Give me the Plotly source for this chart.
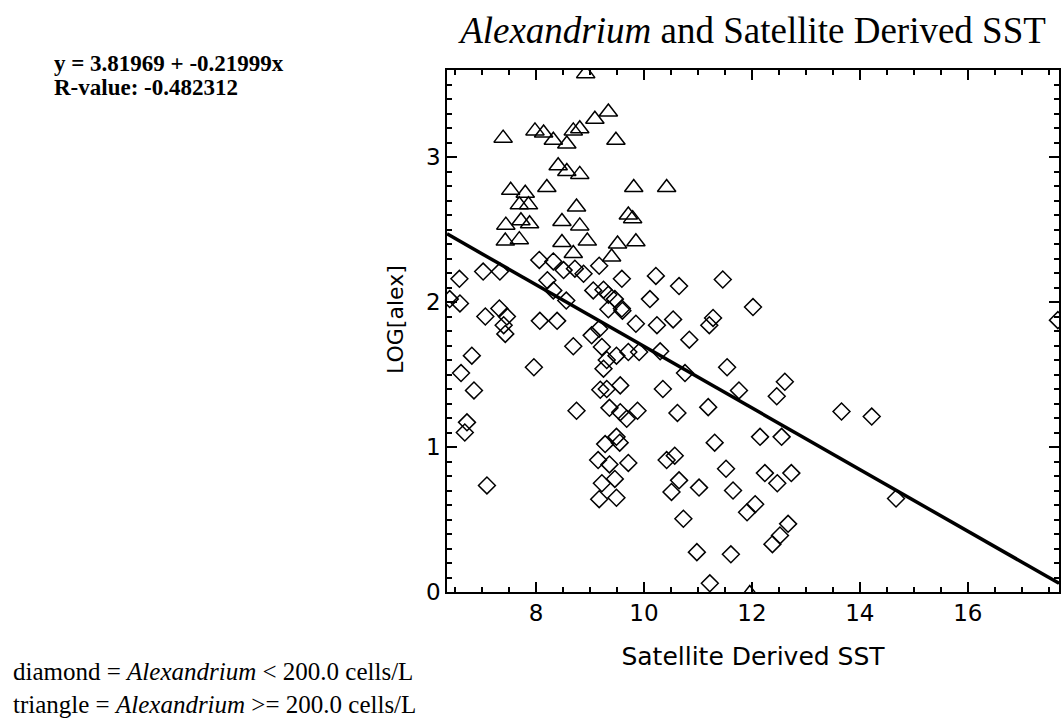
import plotly.graph_objects as go

# ---- data ----
tri_x = [8.92, 9.34, 9.09, 7.39, 9.48, 7.98, 8.14, 8.32, 8.57, 8.69, 8.81,
         8.41, 8.57, 8.81, 8.20, 7.53, 7.80, 9.81, 10.42, 7.69, 7.86, 8.75,
         9.71, 9.79, 7.72, 7.88, 7.44, 8.48, 8.81, 7.43, 7.69, 8.48, 8.95,
         9.51, 9.85, 8.69, 9.40, 11.96]
tri_y = [3.575, 3.31, 3.26, 3.13, 3.115, 3.18, 3.165, 3.115, 3.09, 3.18, 3.195,
         2.94, 2.90, 2.88, 2.79, 2.77, 2.75, 2.79, 2.79, 2.67, 2.67, 2.655,
         2.60, 2.575, 2.56, 2.54, 2.53, 2.555, 2.525, 2.42, 2.43, 2.41, 2.42,
         2.40, 2.415, 2.335, 2.31, -0.01]

dia_x = [8.06, 8.32, 8.51, 8.72, 8.88, 9.17, 7.02, 7.33, 6.58, 9.59, 10.22,
         10.65, 11.46, 8.21, 8.32, 9.06, 9.25, 9.34, 9.46, 9.59, 9.60, 10.11,
         6.40, 6.59, 8.56, 12.02, 7.06, 7.32, 7.46, 7.40, 7.43, 8.07, 8.39,
         9.85, 10.24, 10.54, 11.21, 11.28, 9.34, 8.69, 9.03, 9.17, 9.22, 9.31,
         9.25, 9.49, 9.71, 9.91, 10.84, 10.30, 10.76, 11.54, 11.76, 6.81, 6.61,
         6.85, 7.96, 8.75, 9.56, 9.19, 9.31, 9.36, 9.56, 9.68, 9.88, 10.35,
         10.62, 11.19, 12.15, 6.72, 6.68, 9.28, 9.49, 9.55, 9.15, 9.36, 9.71,
         10.42, 10.57, 11.31, 11.52, 12.24, 7.09, 9.22, 9.46, 9.17, 9.49, 10.65,
         10.51, 11.02, 11.65, 11.91, 12.06, 10.73, 10.98, 11.61, 11.22, 12.61,
         12.46, 13.66, 14.22, 12.55, 12.47, 12.73, 12.67, 12.52, 12.38, 14.67,
         17.67]
dia_y = [2.29, 2.28, 2.22, 2.23, 2.195, 2.25, 2.21, 2.21, 2.16, 2.16, 2.18,
         2.11, 2.155, 2.15, 2.08, 2.08, 2.085, 2.05, 2.02, 1.955, 1.94, 2.02,
         2.02, 1.99, 2.01, 1.965, 1.90, 1.955, 1.90, 1.84, 1.78, 1.87, 1.87,
         1.85, 1.84, 1.88, 1.84, 1.89, 1.95, 1.695, 1.77, 1.815, 1.69, 1.60,
         1.54, 1.63, 1.655, 1.655, 1.74, 1.66, 1.51, 1.55, 1.39, 1.63, 1.51,
         1.39, 1.55, 1.25, 1.425, 1.395, 1.40, 1.27, 1.24, 1.195, 1.25, 1.40,
         1.235, 1.275, 1.07, 1.17, 1.10, 1.02, 1.07, 1.03, 0.91, 0.88, 0.89,
         0.91, 0.94, 1.03, 0.85, 0.82, 0.735, 0.75, 0.78, 0.64, 0.65, 0.77,
         0.69, 0.72, 0.70, 0.55, 0.605, 0.505, 0.275, 0.26, 0.06, 1.45,
         1.35, 1.245, 1.21, 1.07, 0.75, 0.82, 0.47, 0.39, 0.33, 0.645,
         1.875]

fit_x = [6.35, 17.69]
fit_y = [2.47, 0.06]

x_range = [6.35, 17.69]
y_range = [0.0, 3.6]

eq_text = "y = 3.81969 + -0.21999x"
r_text = "R-value: -0.482312"
legend_1 = "diamond = <i>Alexandrium</i> < 200.0 cells/L"
legend_2 = "triangle = <i>Alexandrium</i> >= 200.0 cells/L"
title_text = "<i>Alexandrium</i> and Satellite Derived SST"
x_title = "Satellite Derived SST"
y_title = "LOG[alex]"

# ---- figure ----
W, H = 1063, 720
ML, MR, MT, MB = 447, 4, 70, 128
PW = W - ML - MR
PH = H - MT - MB

def px_x(p):
    return (p - ML) / PW

def px_y(p):
    return 1 - (p - MT) / PH

fig = go.Figure()
fig.add_trace(go.Scatter(x=fit_x, y=fit_y, mode="lines",
                         line=dict(color="black", width=3.5),
                         hoverinfo="skip", showlegend=False))
fig.add_trace(go.Scatter(x=dia_x, y=dia_y, mode="markers",
                         marker=dict(symbol="diamond-open", size=13, color="black",
                                     line=dict(width=1.5, color="black")),
                         hoverinfo="skip", showlegend=False))
fig.add_trace(go.Scatter(x=tri_x, y=tri_y, mode="markers",
                         marker=dict(symbol="triangle-up-open", size=16, color="black",
                                     line=dict(width=1.5, color="black")),
                         hoverinfo="skip", showlegend=False))
# empty trace so the overlaid minor-tick axes get drawn
fig.add_trace(go.Scatter(x=[], y=[], xaxis="x2", yaxis="y2", mode="markers",
                         hoverinfo="skip", showlegend=False))

tick_font = dict(family="DejaVu Sans", size=23, color="black")
title_font = dict(family="DejaVu Sans", size=25, color="black")

common = dict(ticks="inside", tickwidth=1.5, tickcolor="black",
              showgrid=False, zeroline=False)

fig.update_layout(
    xaxis=dict(range=x_range, tickmode="linear", tick0=8, dtick=2, ticklen=10,
               showline=True, linecolor="black", linewidth=1.5, mirror="ticks",
               tickfont=tick_font,
               title=dict(text=x_title, font=title_font, standoff=22), **common),
    yaxis=dict(range=y_range, tickmode="linear", tick0=0, dtick=1, ticklen=10,
               showline=True, linecolor="black", linewidth=1.5, mirror="ticks",
               tickfont=tick_font, **common),
    xaxis2=dict(range=x_range, overlaying="x", anchor="y", side="bottom",
                tickmode="linear", tick0=8, dtick=0.5, ticklen=5,
                showticklabels=False, showline=False, mirror="ticks", **common),
    yaxis2=dict(range=y_range, overlaying="y", anchor="x", side="left",
                tickmode="linear", tick0=0, dtick=0.1, ticklen=5,
                showticklabels=False, showline=False, mirror="ticks", **common),
)

serif = "Liberation Serif, Times New Roman, serif"
fig.update_layout(
    width=W, height=H,
    margin=dict(l=ML, r=MR, t=MT, b=MB, autoexpand=False),
    paper_bgcolor="white", plot_bgcolor="white",
    title=dict(text=title_text, font=dict(family=serif, size=37, color="black"),
               x=0.5, xref="paper", xanchor="center",
               y=1 - 30 / H, yref="container", yanchor="middle"),
    annotations=[
        dict(text=y_title, x=px_x(395), y=px_y(320), xref="paper", yref="paper",
             xanchor="center", yanchor="middle", textangle=-90, showarrow=False,
             font=dict(family="DejaVu Sans", size=22, color="black")),
        dict(text="<b>" + eq_text + "</b>", x=px_x(52), y=px_y(63), xref="paper",
             yref="paper", xanchor="left", yanchor="middle", showarrow=False,
             font=dict(family=serif, size=23, color="black")),
        dict(text="<b>" + r_text + "</b>", x=px_x(52), y=px_y(88), xref="paper",
             yref="paper", xanchor="left", yanchor="middle", showarrow=False,
             font=dict(family=serif, size=23, color="black")),
        dict(text=legend_1 + "<br>" + legend_2, x=px_x(12), y=px_y(719),
             xref="paper", yref="paper", xanchor="left", yanchor="bottom",
             align="left", showarrow=False, borderpad=0,
             font=dict(family=serif, size=25, color="black")),
    ],
)

fig.write_html("out.html")
